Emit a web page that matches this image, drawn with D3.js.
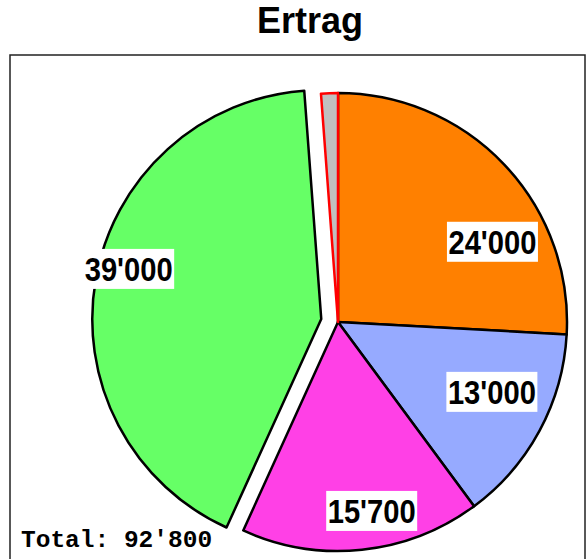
<!DOCTYPE html>
<html>
<head>
<meta charset="utf-8">
<script src="https://cdn.jsdelivr.net/npm/d3@7"></script>
<style>
  body { margin: 0; background: #fff; }
</style>
</head>
<body>
<div id="chart"></div>
<script>
// Data
var sliceValues = [24000, 13000, 15700, 39000, 1100];
var sliceColors = ["#ff8000", "#96aaff", "#ff40e6", "#66ff66", "#c0c0c0"];
var sliceStrokes = ["#000", "#000", "#000", "#000", "#ff0000"];
var sliceExploded = [false, false, false, true, false];
var sliceShowLabel = [true, true, true, true, false];
var chartTitle = "Ertrag";
var totalPrefix = "Total: ";

var W = 588, H = 559;
var cx = 338, cy = 322, R = 229;
var explode = 17;

var fmt = d3.formatLocale({decimal: ".", thousands: "'", grouping: [3], currency: ["", ""]}).format(",");

var svg = d3.select("#chart").append("svg")
  .attr("width", W)
  .attr("height", H);

// title
svg.append("text")
  .attr("x", 310)
  .attr("y", 33)
  .attr("text-anchor", "middle")
  .attr("font-family", "Liberation Sans, Arial, sans-serif")
  .attr("font-weight", "bold")
  .attr("font-size", 36)
  .text(chartTitle);

// plot frame
svg.append("rect")
  .attr("x", 10)
  .attr("y", 55)
  .attr("width", 575)
  .attr("height", 540)
  .attr("fill", "none")
  .attr("stroke", "#222")
  .attr("stroke-width", 1.5);

var pie = d3.pie().sort(null).value(d => d)(sliceValues);
var arc = d3.arc().innerRadius(0).outerRadius(R);

function offsetOf(d, i) {
  if (!sliceExploded[i]) return [0, 0];
  var a = (d.startAngle + d.endAngle) / 2;
  return [explode * Math.sin(a), -explode * Math.cos(a)];
}

var pieG = svg.append("g").attr("transform", `translate(${cx}, ${cy})`);

pieG.selectAll("path")
  .data(pie)
  .enter()
  .append("path")
  .attr("transform", (d, i) => `translate(${offsetOf(d, i)})`)
  .attr("d", arc)
  .attr("fill", (d, i) => sliceColors[i])
  .attr("stroke", (d, i) => sliceStrokes[i])
  .attr("stroke-width", 2.5)
  .attr("stroke-linejoin", "round");

// label placement: mid angle with small layout nudges (deg, fraction of radius)
var labelNudge = [[16, 0.76], [-3.9, 0.738], [-4.1, 0.838], [4.5, 0.869], [0, 0.8]];

var labelG = pieG.selectAll("g.lbl")
  .data(pie.filter((d, i) => sliceShowLabel[i]))
  .enter()
  .append("g")
  .attr("class", "lbl")
  .attr("transform", function(d) {
    var i = d.index;
    var a = (d.startAngle + d.endAngle) / 2 + labelNudge[i][0] * Math.PI / 180;
    var r = labelNudge[i][1] * R;
    var o = offsetOf(d, i);
    return `translate(${o[0] + r * Math.sin(a)}, ${o[1] - r * Math.cos(a)})`;
  });

labelG.append("rect")
  .attr("x", -45.5)
  .attr("y", -20)
  .attr("width", 91)
  .attr("height", 40)
  .attr("fill", "#fff");

labelG.append("text")
  .attr("x", 0)
  .attr("y", 12)
  .attr("text-anchor", "middle")
  .attr("font-family", "Liberation Sans, Arial, sans-serif")
  .attr("font-weight", "bold")
  .attr("font-size", 33)
  .attr("textLength", 88)
  .attr("lengthAdjust", "spacingAndGlyphs")
  .text(d => fmt(d.value));

// total in the lower left corner
svg.append("text")
  .attr("x", 21)
  .attr("y", 547)
  .attr("font-family", "Liberation Mono, Courier New, monospace")
  .attr("font-weight", "bold")
  .attr("font-size", 24.5)
  .text(totalPrefix + fmt(d3.sum(sliceValues)));
</script>
</body>
</html>
